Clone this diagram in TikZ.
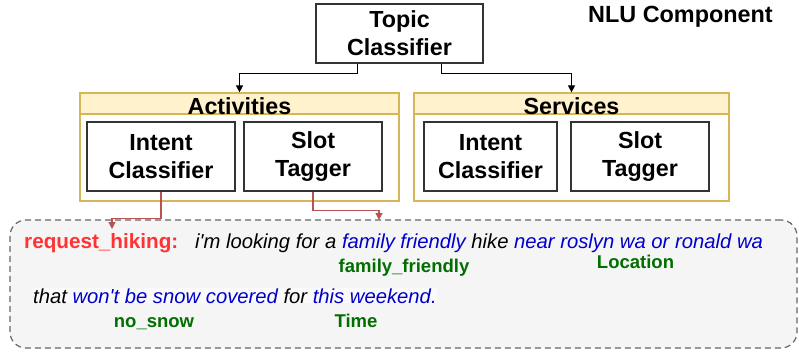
\documentclass[tikz,border=0pt]{standalone}
\usepackage{fontspec}
\setmainfont{Liberation Sans}
\usetikzlibrary{arrows.meta,calc}
\definecolor{boxline}{HTML}{333333}
\definecolor{contline}{HTML}{D6B656}
\definecolor{contfill}{HTML}{FFF2CC}
\definecolor{redline}{HTML}{B85450}
\definecolor{exfill}{HTML}{F5F5F5}
\definecolor{exline}{HTML}{666666}
\definecolor{intred}{HTML}{FF3333}
\definecolor{slotblue}{HTML}{0000CC}
\definecolor{tagGreen}{HTML}{006E00}
\definecolor{hlfill}{HTML}{FAFAFA}
\begin{document}
\begin{tikzpicture}[x=1pt,y=-1pt,
  boxtext/.style={font=\fontsize{23.3}{28}\selectfont\bfseries, align=center},
  innerbox/.style={draw=boxline, line width=1.2pt, fill=white, minimum height=69pt, inner sep=0pt, boxtext},
  container/.style={draw=contline, line width=1.2pt, fill=white, inner sep=0pt},
  header/.style={draw=contline, line width=1.2pt, fill=contfill, inner sep=0pt},
  headtext/.style={font=\fontsize{23.3}{28}\selectfont\bfseries, inner sep=0pt, anchor=base},
  arr/.style={draw=black, line width=1pt, -{Triangle[width=7pt,length=7pt]}},
  redarr/.style={draw=redline, line width=1.2pt, -{Triangle[width=7pt,length=7pt]}},
  lbl/.style={inner sep=0pt, anchor=base west},
  tag/.style={inner sep=0pt, anchor=base, text=tagGreen, font=\fontsize{18.5}{22}\selectfont\bfseries},
  sent/.style={inner sep=0pt, anchor=base west, font=\fontsize{20.25}{24}\selectfont\itshape}
]
\useasboundingbox (0,0) rectangle (799,353);

% Topic classifier
\node[draw=boxline, line width=1.2pt, fill=white, minimum width=167pt, minimum height=59pt, inner sep=0pt, boxtext] (topic) at (399.5,33.5) {Topic\\Classifier};

% NLU title
\node[lbl, font=\fontsize{23.4}{28}\selectfont\bfseries] (nlu) at (588,23) {NLU Component};

% Containers
\node[container, minimum width=319pt, minimum height=108pt] (act) at (239.5,147) {};
\node[header, minimum width=319pt, minimum height=21pt] (acth) at (239.5,103.5) {};
\node[headtext] (actt) at (239.5,114) {Activities};

\node[container, minimum width=315pt, minimum height=108pt] (srv) at (571.5,147) {};
\node[header, minimum width=315pt, minimum height=21pt] (srvh) at (571.5,103.5) {};
\node[headtext] (srvt) at (571.5,114) {Services};

% Inner boxes
\node[innerbox, minimum width=148pt] (ic1) at (161,156.5) {Intent\\Classifier};
\node[innerbox, minimum width=138pt] (st1) at (313,156.5) {Slot\\Tagger};
\node[innerbox, minimum width=133pt] (ic2) at (490.5,156.5) {Intent\\Classifier};
\node[innerbox, minimum width=138pt] (st2) at (640,156.5) {Slot\\Tagger};

% Arrows from topic classifier
\draw[arr] ($(topic.south west)!0.25!(topic.south east)$) -- ++(0,10) -| (act.north);
\draw[arr] ($(topic.south west)!0.75!(topic.south east)$) -- ++(0,10) -| (srv.north);

% Example box
\node[draw=exline, dashed, dash pattern=on 6pt off 4pt, line width=1.2pt, fill=exfill, rounded corners=16pt, minimum width=787pt, minimum height=128pt, inner sep=0pt] (ex) at (403.5,284) {};

% Red connectors
\coordinate (t1) at (112,229);
\coordinate (t2) at (379,220);
\draw[redarr] (ic1.south) -- ++(0,27) -| (t1);
\draw[redarr] (st1.south) -- ++(0,19) -| (t2);

% Texts in example
\node[lbl, text=intred, font=\fontsize{20.7}{24}\selectfont\bfseries] (intent) at (24,248) {request\_hiking:};
\node[sent] (s1) at (195,248) {i\textquotesingle m looking for a \textcolor{slotblue}{family friendly} hike \textcolor{slotblue}{near roslyn wa or ronald wa}};
\node[tag] (g1) at (404,272) {family\_friendly};
\node[tag] (g2) at (635.5,268) {Location};
\node[sent, fill=hlfill] (s2) at (33,303) {that \textcolor{slotblue}{won\textquotesingle t be snow covered} for \textcolor{slotblue}{this weekend.}};
\node[tag] (g3) at (154,327) {no\_snow};
\node[tag] (g4) at (356,327) {Time};
\end{tikzpicture}
\end{document}
